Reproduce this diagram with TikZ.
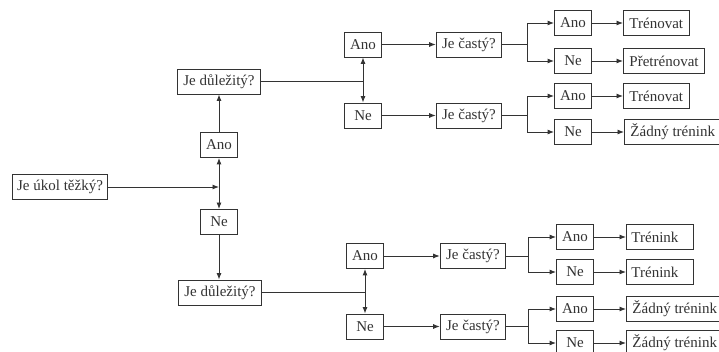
\documentclass[tikz,border=0pt]{standalone}
\usepackage{fontspec}
\setmainfont{Liberation Serif}
\usetikzlibrary{arrows.meta}
\definecolor{ink}{HTML}{333333}
\tikzset{
  box/.style={draw=ink, line width=0.9pt, text=ink, font=\fontsize{15}{18}\selectfont,
    minimum height=25pt, inner xsep=5pt, inner ysep=0pt},
  small/.style={box, minimum width=37pt},
  res/.style={box, anchor=west},
  fixres/.style={res, align=left, text width=#1},
  link/.style={draw=ink, line width=0.9pt},
  arr/.style={link, -{Latex[length=6.5pt,width=5pt]}},
  darr/.style={link, {Latex[length=6.5pt,width=5pt]}-{Latex[length=6.5pt,width=5pt]}},
}
\begin{document}
\begin{tikzpicture}[x=1pt, y=-1pt]
  \fill[white] (0,0) rectangle (719,352);
  \useasboundingbox (0,0) rectangle (719,352);

  % first question
  \node[box] (root) at (60,187) {Je úkol těžký?};
  \node[small] (ano0) at (219,145) {Ano};
  \node[small] (ne0) at (219,222) {Ne};
  \node[box, inner xsep=6pt] (imp1) at (219,81.5) {Je důležitý?};
  \node[box, inner xsep=6pt] (imp2) at (220,292.5) {Je důležitý?};

  \draw[arr] (root.east) -- (root.east -| ano0.south);
  \draw[darr] (ano0.south) -- (ne0.north);
  \draw[arr] (ano0.north) -- (imp1.south);
  \draw[arr] (ne0.south) -- (ne0.south |- imp2.north);

  % upper branch
  \node[small] (aTop) at (363,44.5) {Ano};
  \node[small] (nTop) at (363,115.5) {Ne};
  \draw[link] (imp1.east) -- (imp1.east -| aTop.south);
  \draw[darr] (aTop.south) -- (nTop.north);

  \node[box, inner xsep=6pt] (c1) at (469,44.5) {Je častý?};
  \node[box, inner xsep=6pt] (c2) at (469,115.5) {Je častý?};
  \draw[arr] (aTop.east) -- (c1.west);
  \draw[arr] (nTop.east) -- (c2.west);

  \node[small] (r1a) at (573,23) {Ano};
  \node[small] (r1n) at (573,61) {Ne};
  \node[small] (r2a) at (573,96) {Ano};
  \node[small] (r2n) at (573,132) {Ne};
  \coordinate (b1) at (527,44.5);
  \coordinate (b2) at (527,115.5);
  \draw[link] (c1.east) -- (b1);
  \draw[arr] (b1) |- (r1a.west);
  \draw[arr] (b1) |- (r1n.west);
  \draw[link] (c2.east) -- (b2);
  \draw[arr] (b2) |- (r2a.west);
  \draw[arr] (b2) |- (r2n.west);

  \node[res, inner xsep=6pt] (t1a) at (623,23) {Trénovat};
  \node[res, inner xsep=6pt] (t1n) at (623,61) {Přetrénovat};
  \node[res, inner xsep=6pt] (t2a) at (623,96) {Trénovat};
  \node[res, inner xsep=6pt] (t2n) at (624,132) {Žádný trénink};
  \draw[arr] (r1a.east) -- (t1a.west);
  \draw[arr] (r1n.east) -- (t1n.west);
  \draw[arr] (r2a.east) -- (t2a.west);
  \draw[arr] (r2n.east) -- (t2n.west);

  % lower branch
  \node[small] (aBot) at (365,256) {Ano};
  \node[small] (nBot) at (365,326.5) {Ne};
  \draw[link] (imp2.east) -- (imp2.east -| aBot.south);
  \draw[darr] (aBot.south) -- (nBot.north);

  \node[box, inner xsep=6pt] (c3) at (473,256) {Je častý?};
  \node[box, inner xsep=6pt] (c4) at (473,326.5) {Je častý?};
  \draw[arr] (aBot.east) -- (c3.west);
  \draw[arr] (nBot.east) -- (c4.west);

  \node[small] (r3a) at (575,237) {Ano};
  \node[small] (r3n) at (575,272) {Ne};
  \node[small] (r4a) at (575,309) {Ano};
  \node[small] (r4n) at (575,343) {Ne};
  \coordinate (b3) at (528,256);
  \coordinate (b4) at (528,326.5);
  \draw[link] (c3.east) -- (b3);
  \draw[arr] (b3) |- (r3a.west);
  \draw[arr] (b3) |- (r3n.west);
  \draw[link] (c4.east) -- (b4);
  \draw[arr] (b4) |- (r4a.west);
  \draw[arr] (b4) |- (r4n.west);

  \node[fixres=57pt] (t3a) at (626,237) {Trénink};
  \node[fixres=57pt] (t3n) at (626,272) {Trénink};
  \node[res, inner xsep=6pt] (t4a) at (626,309) {Žádný trénink};
  \node[res, inner xsep=6pt] (t4n) at (626,343) {Žádný trénink};
  \draw[arr] (r3a.east) -- (t3a.west);
  \draw[arr] (r3n.east) -- (t3n.west);
  \draw[arr] (r4a.east) -- (t4a.west);
  \draw[arr] (r4n.east) -- (t4n.west);
\end{tikzpicture}
\end{document}
